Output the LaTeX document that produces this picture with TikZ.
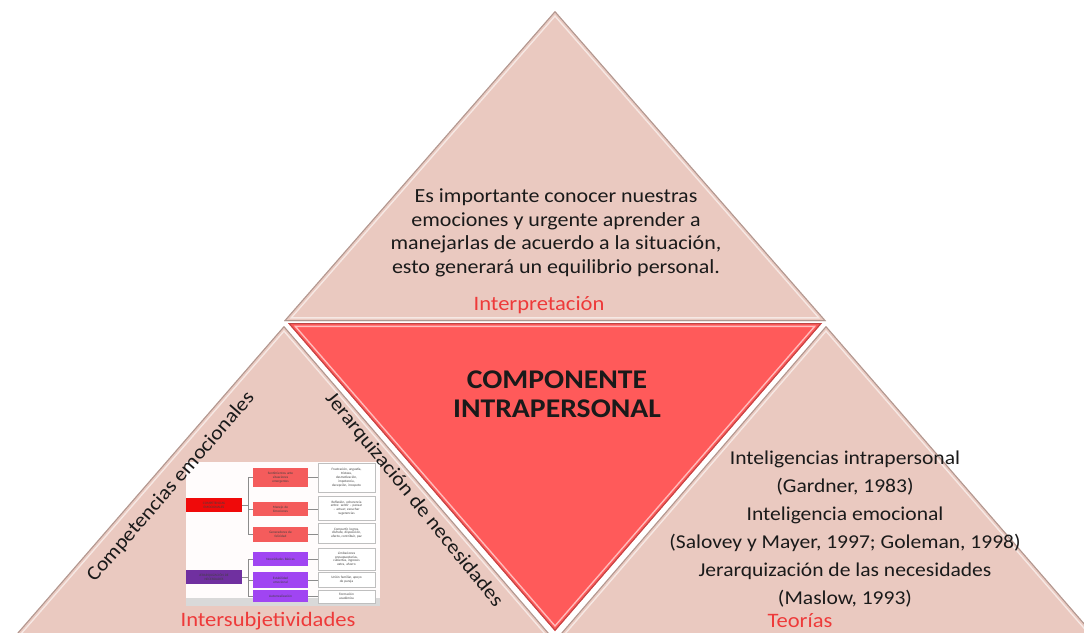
\documentclass[tikz,border=0pt]{standalone}
\usepackage{fontspec}
\setmainfont[FakeStretch=1.1]{Carlito}
\newfontfamily\plainfont{Carlito}
\definecolor{pinkfill}{HTML}{EAC9C0}
\definecolor{redfill}{HTML}{FF5A5A}
\definecolor{labelred}{HTML}{EE3A3A}
\definecolor{txt}{HTML}{1A1A1A}
\definecolor{minired}{HTML}{F00A0A}
\definecolor{minilred}{HTML}{F45C5C}
\definecolor{minipurple}{HTML}{7030A0}
\definecolor{minilpurple}{HTML}{A045F2}
\newcommand{\bevtri}[4]{%
  \fill[#1] #2 -- #3 -- #4 -- cycle;
  \begin{scope}
    \clip #2 -- #3 -- #4 -- cycle;
    \draw[white, opacity=0.6, line width=8pt, line join=miter] #2 -- #3 -- #4 -- cycle;
    \draw[#1, line width=5pt, line join=miter] #2 -- #3 -- #4 -- cycle;
    \draw[#1!75!black, line width=2pt, line join=miter] #2 -- #3 -- #4 -- cycle;
  \end{scope}}
\tikzset{
  maintext/.style={text=txt, align=center, font=\fontsize{20}{23.5}\selectfont},
  redlabel/.style={text=labelred, font=\fontsize{20.5}{22}\selectfont},
  sidetext/.style={text=txt, font=\fontsize{20}{24}\selectfont},
  minibox/.style={inner sep=0.4pt, align=center, text width=#1, font=\plainfont\fontsize{3.4}{3.9}\selectfont, text=black!75},
  minitxt/.style={minibox=54pt, fill=white, draw=black!25, line width=0.4pt, minimum width=57pt},
  minilink/.style={draw=black!45, line width=0.4pt}
}
\begin{document}
\begin{tikzpicture}[x=1pt,y=-1pt]
\useasboundingbox (0,0) rectangle (1084,632);
\clip (0,0) rectangle (1084,632);
\fill[white] (0,0) rectangle (1084,632);

% triangles
\bevtri{pinkfill}{(555,11)}{(284,321)}{(826,321)}
\bevtri{redfill}{(288,323)}{(822,323)}{(555,631)}
\bevtri{pinkfill}{(284,326)}{(13,638)}{(553,638)}
\bevtri{pinkfill}{(826,326)}{(557,638)}{(1097,638)}

% top triangle text
\node[maintext] (interp) at (556,233) {Es importante conocer nuestras\\emociones y urgente aprender a\\manejarlas de acuerdo a la situación,\\esto generará un equilibrio personal.};
\node[redlabel] (interplab) at (539,305) {Interpretación};

% center
\node[text=txt, align=center, font=\bfseries\fontsize{27}{29}\selectfont] (comp) at (557,394) {COMPONENTE\\INTRAPERSONAL};

% right triangle text
\node[text=txt, align=center, font=\fontsize{19.6}{28}\selectfont] (teor) at (845,529) {Inteligencias intrapersonal\\(Gardner, 1983)\\Inteligencia emocional\\(Salovey y Mayer, 1997; Goleman, 1998)\\Jerarquización de las necesidades\\(Maslow, 1993)};
\node[redlabel] (teorlab) at (800,621) {Teorías};

% mini diagram
\fill[white!96!pink] (186,462) rectangle (380,606);
\fill[black!15] (186,598) rectangle (380,606);

\node[minibox=54pt, fill=minired, minimum width=56pt, minimum height=14pt] (ce) at (214,505) {COMPETENCIAS\\EMOCIONALES};
\node[minibox=52pt, fill=minilred, minimum width=55pt, minimum height=19pt] (s1) at (280.5,477.5) {Sentimientos ante\\situaciones\\emergentes};
\node[minibox=52pt, fill=minilred, minimum width=55pt, minimum height=14pt] (s2) at (280.5,509) {Manejo de\\Emociones};
\node[minibox=52pt, fill=minilred, minimum width=55pt, minimum height=15pt] (s3) at (280.5,534.5) {Generadores de\\felicidad};
\node[minitxt, minimum height=29pt] (t1) at (346.5,477.5) {Frustración, angustia,\\tristeza,\\desmotivación,\\impotencia,\\decepción, irrespeto};
\node[minitxt, minimum height=24pt] (t2) at (346.5,508) {Reflexión, coherencia\\entre: sentir – pensar\\– actuar; escuchar\\sugerencias};
\node[minitxt, minimum height=20pt] (t3) at (346.5,533) {Compartir, logros,\\disfrute, disposición,\\afecto, contribuir, paz};

\node[minibox=54pt, fill=minipurple, minimum width=56pt, minimum height=14pt] (jn) at (214,577) {JERARQUIZACIÓN DE\\NECESIDADES};
\node[minibox=52pt, fill=minilpurple, minimum width=55pt, minimum height=14pt] (n1) at (280.5,559) {Necesidades Básicas};
\node[minibox=52pt, fill=minilpurple, minimum width=55pt, minimum height=16pt] (n2) at (280.5,580) {Estabilidad\\emocional};
\node[minibox=52pt, fill=minilpurple, minimum width=55pt, minimum height=12pt] (n3) at (280.5,596) {Autorrealización};
\node[minitxt, minimum height=22pt] (u1) at (346.5,559) {Limitaciones\\presupuestarias,\\cubiertas, ingresos\\extra, ahorro};
\node[minitxt, minimum height=15pt] (u2) at (346.5,579.5) {Unión familiar, apoyo\\de pareja};
\node[minitxt, minimum height=13pt] (u3) at (346.5,596.5) {Formación\\académica};

\foreach \c in {s1,s2,s3} \draw[minilink] (ce.east) -- ++(5.5,0) |- (\c.west);
\foreach \c in {n1,n2,n3} \draw[minilink] (jn.east) -- ++(5.5,0) |- (\c.west);
\foreach \a/\b in {s1/t1,s2/t2,s3/t3,n1/u1,n2/u2,n3/u3} \draw[minilink] (\a.east) -- (\a.east -| \b.west);

% left triangle texts
\node[sidetext, rotate=49] (compem) at (171,487) {Competencias emocionales};
\node[sidetext, rotate=-51] (jerar) at (414,500) {Jerarquización de necesidades};
\node[redlabel] (interslab) at (268,621) {Intersubjetividades};
\end{tikzpicture}
\end{document}
